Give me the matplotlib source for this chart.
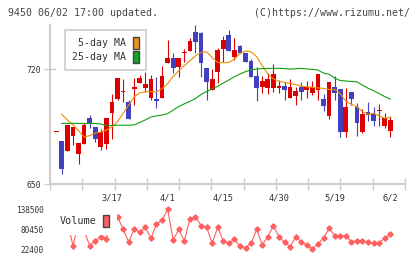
import numpy as np
import matplotlib
matplotlib.use("Agg")
import matplotlib.pyplot as plt
from matplotlib.patches import Patch

plt.rcParams['font.family'] = ['DejaVu Sans Mono']

# x labels (trading day index -> date)
date_idx = [10, 20, 30, 40, 50, 60]
date_lbl = ["3/17", "4/1", "4/15", "4/30", "5/19", "6/2"]

# daily candles
opens = [681.4, 676.1, 670.2, 679.3, 668.3, 674.4, 689.9, 684.4, 672.6, 674.4,
         693.3, 701.5, 705.9, 700.0, 707.6, 711.6, 708.6, 702.5, 701.7, 702.5,
         723.5, 726.9, 721.4, 729.7, 731.0, 742.4, 741.8, 720.4, 707.2, 718.4,
         732.2, 740.7, 727.5, 734.0, 729.6, 725.1, 715.7, 709.2, 708.6, 708.6,
         708.6, 709.6, 702.5, 703.7, 709.2, 707.2, 705.5, 707.2, 701.5, 691.5,
         708.8, 707.6, 681.4, 705.8, 696.6, 681.4, 693.6, 692.5, 694.6, 685.4,
         682.4]
highs = [681.8, 676.1, 686.0, 685.0, 675.0, 687.2, 691.9, 685.0, 683.2, 690.0,
         704.6, 714.5, 714.0, 701.0, 714.3, 716.3, 718.4, 716.3, 715.0, 721.8,
         737.7, 730.0, 727.0, 732.0, 739.1, 746.8, 742.4, 720.4, 719.8, 732.6,
         740.1, 743.8, 738.7, 734.6, 730.0, 726.0, 721.4, 715.7, 717.4, 723.0,
         713.3, 711.9, 713.7, 709.2, 712.0, 712.7, 712.7, 717.0, 704.6, 712.0,
         715.7, 707.6, 708.2, 705.8, 699.1, 695.6, 699.7, 696.6, 698.6, 693.0,
         691.5]
lows = [681.4, 655.9, 670.2, 673.6, 662.0, 674.4, 683.8, 675.6, 671.0, 671.6,
        677.7, 701.0, 700.0, 689.5, 698.0, 711.6, 706.0, 701.0, 696.0, 702.5,
        723.5, 717.4, 715.3, 724.5, 731.0, 729.6, 715.0, 701.0, 707.0, 711.6,
        724.5, 731.0, 725.5, 729.6, 724.5, 714.9, 700.7, 705.5, 704.6, 706.2,
        705.5, 701.1, 702.5, 698.0, 701.1, 702.5, 704.1, 701.1, 694.6, 689.5,
        701.1, 678.7, 678.7, 698.0, 679.3, 680.8, 688.3, 685.4, 685.4, 683.8,
        678.7]
closes = [681.8, 659.0, 685.8, 684.8, 674.9, 685.8, 686.9, 677.7, 681.4, 689.9,
          700.0, 714.3, 706.5, 689.5, 709.2, 714.3, 710.8, 713.9, 700.7, 715.9,
          726.9, 720.4, 726.9, 730.1, 737.1, 736.7, 723.5, 712.3, 713.9, 731.6,
          737.7, 731.2, 731.6, 729.6, 724.5, 714.9, 708.6, 712.7, 713.7, 716.9,
          709.6, 707.2, 709.2, 706.6, 706.2, 708.8, 708.8, 716.9, 697.4, 711.9,
          705.5, 681.4, 696.6, 701.5, 686.9, 692.5, 691.9, 688.5, 695.0, 690.3,
          688.9]

# moving averages as drawn
ma5 = [np.nan, 692.4, 689.0, 686.0, 682.5, 678.5, 679.5, 681.0, 681.6, 682.8,
       684.8, 688.0, 693.0, 698.0, 703.0, 705.5, 706.2, 706.2, 706.2, 708.0,
       711.0, 715.5, 719.0, 722.0, 725.0, 728.0, 730.0, 730.5, 727.0, 724.0,
       723.8, 724.0, 726.0, 729.5, 731.0, 730.5, 727.5, 722.0, 717.0, 714.0,
       712.5, 711.8, 711.3, 710.5, 709.5, 709.2, 708.8, 708.5, 708.2, 707.5,
       707.6, 705.0, 700.5, 698.6, 697.0, 694.0, 692.5, 693.0, 691.5, 690.0,
       690.5]
ma25 = [np.nan, 686.9, 686.9, 686.9, 686.9, 686.9, 686.9, 686.9, 686.5, 685.5,
        685.6, 685.8, 685.8, 685.8, 686.0, 687.5, 689.0, 690.8, 691.5, 692.0,
        692.8, 695.0, 697.2, 698.8, 700.3, 702.0, 704.5, 706.3, 708.0, 709.5,
        711.5, 713.3, 715.3, 717.0, 718.4, 719.5, 720.0, 720.3, 720.4, 720.4,
        720.4, 720.3, 719.9, 720.2, 720.4, 720.0, 719.8, 719.4, 717.5, 716.8,
        714.5, 713.0, 712.7, 712.4, 712.2, 710.2, 708.3, 706.8, 705.0, 703.2,
        701.7]

volume = [95000, 110000, 104500, 32850, 99600, 76000, 33000, 47500, 56800, 53300,
          136000, 117000, 80450, 44460, 80450, 71750, 86250, 54330, 94960, 107440,
          138500, 49400, 80450, 46500, 110350, 117000, 90900, 86250, 39800, 86250,
          46500, 41000, 51420, 31980, 27040, 39800, 80450, 34880, 58970, 90900,
          58970, 42720, 29950, 57230, 44460, 34880, 23270, 37780, 54330, 83350,
          61870, 61870, 61870, 44460, 46500, 47360, 42720, 39800, 41560, 54330,
          66800]
vol_ticks = [22400, 80450, 138500]

W, H = 420, 259
def box(x0, y0, x1, y1):
    return [x0 / W, 1 - y1 / H, (x1 - x0) / W, (y1 - y0) / H]

fig = plt.figure(figsize=(4.2, 2.59), dpi=100)
ax = fig.add_axes(box(50, 25, 405, 184))
axv = fig.add_axes(box(50, 205, 405, 255))
axv.patch.set_alpha(0)

x = np.arange(len(closes))
o = np.array(opens); c = np.array(closes)
up = c >= o
cols = np.where(up, "#dd0000", "#4040c0")
bottom = np.minimum(o, c)
height = np.maximum(np.abs(c - o), 0.6)

grey = "#cccccc"
txt = "#333333"

ax.vlines(x, lows, highs, colors=cols, lw=0.8, zorder=2)
ax.bar(x, height, 0.85, bottom, color=cols, zorder=3)
ax.plot(x, ma5, color="#f08c00", lw=0.8, zorder=4)
ax.plot(x, ma25, color="#10a010", lw=0.8, zorder=4)

xmin, xmax = -1.13, 62.64
ax.set_xlim(xmin, xmax)
ax.set_ylim(650, 746.8)
for s in ["top", "right"]:
    ax.spines[s].set_visible(False)
for s in ["left", "bottom"]:
    ax.spines[s].set_color(grey)
    ax.spines[s].set_linewidth(1.4)

ax.set_yticks([650, 720], ["650", "720"])
ax.tick_params(axis="y", direction="inout", length=8, width=1, color=grey,
               pad=2.6, labelsize=5.8, labelcolor=txt)
ax.set_xticks(date_idx, date_lbl)
ax.tick_params(axis="x", which="major", length=0, pad=6.5, labelsize=6.2, labelcolor=txt)
ax.set_xticks(np.linspace(xmin, xmax, 12), minor=True)
ax.tick_params(axis="x", which="minor", direction="inout", length=9, width=1, color=grey)

leg = ax.legend(handles=[Patch(facecolor="#f0901c", edgecolor="#444444", lw=1, label="5-day MA"),
                         Patch(facecolor="#10a820", edgecolor="#444444", lw=1, label="25-day MA")],
                markerfirst=False, loc="upper left", bbox_to_anchor=(65 / W, 1 - 30 / H),
                bbox_transform=fig.transFigure, borderaxespad=0, prop={"size": 7.1},
                handlelength=0.6, handleheight=1.5, labelspacing=0.2, borderpad=0.7,
                handletextpad=0.7, fancybox=False, framealpha=1, edgecolor=grey,
                labelcolor=txt)
leg.get_frame().set_linewidth(1.2)

# volume panel
axv.plot(x, volume, color="#ff5f5f", lw=0.8, marker="D", ms=2.7, zorder=2)
axv.set_xlim(xmin, xmax)
axv.set_ylim(5856, 150980)
for s in axv.spines.values():
    s.set_visible(False)
axv.set_xticks([])
axv.set_yticks(vol_ticks, [str(v) for v in vol_ticks])
axv.tick_params(axis="y", length=0, pad=4.8, labelsize=5.6, labelcolor=txt)
vleg = axv.legend(handles=[Patch(facecolor="#ff5f5f", edgecolor="#444444", lw=1, label="Volume")],
                  markerfirst=False, loc="upper left", bbox_to_anchor=(51.3 / W, 1 - 206.5 / H),
                  bbox_transform=fig.transFigure, borderaxespad=0, prop={"size": 7.3},
                  handlelength=0.6, handleheight=1.5, borderpad=0.8, handletextpad=0.7,
                  fancybox=False, framealpha=1, edgecolor="none", labelcolor=txt)

fig.text(8 / W, 1 - 12.5 / H, "9450 06/02 17:00 updated.", fontsize=7.1,
         va="center", ha="left", color="#444444")
fig.text(410 / W, 1 - 12.5 / H, "(C)https://www.rizumu.net/", fontsize=7.1,
         va="center", ha="right", color="#444444")

fig.savefig("out.png", dpi=100)
